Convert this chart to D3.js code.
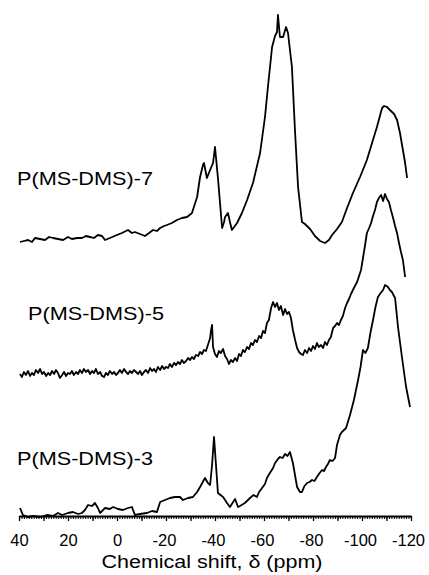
<!DOCTYPE html>
<html>
<head>
<meta charset="utf-8">
<script src="https://cdn.jsdelivr.net/npm/d3@7"></script>
<style>
  body { margin: 0; background: #fff; }
  svg { display: block; }
  text { font-family: "Liberation Sans", Arial, Helvetica, sans-serif; fill: #000; }
</style>
</head>
<body>
<div id="chart"></div>
<script>
// chemical shift axis (ppm), runs high -> low
var tickLabels = [40, 20, 0, -20, -40, -60, -80, -100, -120];

// P(MS-DMS)-7 (top trace)
var ppm7 = [39.6, 38.0, 36.3, 34.7, 33.5, 31.4, 29.4, 27.7, 26.1, 24.1, 22.0, 20.0, 18.4, 16.3, 14.3, 12.7,
  11.0, 9.4, 7.8, 6.1, 4.9, 2.9, 0.0, -2.0, -4.5, -6.1, -7.3, -9.4, -11.4, -13.1, -14.7, -16.3,
  -17.6, -19.2, -20.4, -22.4, -24.5, -26.5, -28.6, -30.6, -32.7, -33.9, -35.1, -35.5, -36.7, -38.0, -39.2,
  -40.0, -41.2, -42.9, -43.7, -44.1, -45.3, -46.1, -46.9, -49.0, -51.0, -53.1, -55.5, -58.4, -60.4, -61.6,
  -63.3, -64.5, -65.3, -65.7, -66.5, -67.8, -69.0, -69.8, -71.4, -72.7, -73.9, -75.5, -76.7, -78.8, -80.8,
  -82.9, -84.9, -86.5, -87.8, -89.8, -91.8, -93.9, -96.3, -99.2, -102.0, -104.1, -106.1, -108.2, -109.0,
  -110.2, -111.4, -113.1, -114.3, -115.5, -116.7, -117.6, -118.4];
var int7 = [2, 3, 4, 2, 6, 5, 4, 7, 6, 5, 4, 7, 5, 6, 6, 8,
  7, 6, 9, 8, 4, 6, 9, 11, 14, 11, 12, 10, 8, 11, 14, 13,
  16, 18, 19, 21, 24, 26, 27, 31, 47, 67, 79, 81, 66, 74, 81,
  97, 66, 16, 22, 27, 31, 22, 14, 21, 31, 44, 61, 91, 127, 157,
  197, 208, 212, 229, 207, 207, 217, 211, 177, 111, 57, 22, 20, 15, 8,
  3, 1, 4, 9, 15, 22, 36, 51, 67, 84, 101, 117, 136, 138,
  137, 134, 130, 124, 111, 94, 81, 66];

// P(MS-DMS)-5 (middle trace)
var ppm5 = [39.6, 38.8, 38.0, 37.2, 36.3, 35.5, 34.7, 33.9, 33.1, 32.2, 31.4, 30.6, 29.8, 28.9, 28.1, 27.3,
  26.5, 25.7, 24.9, 24.1, 23.3, 22.4, 21.6, 20.8, 20.0, 19.2, 18.4, 17.6, 16.7, 15.9, 15.1, 14.3,
  13.5, 12.7, 11.8, 11.0, 10.2, 9.4, 8.6, 7.8, 6.9, 6.1, 5.3, 4.5, 3.7, 2.9, 2.0, 1.2,
  0.4, -0.4, -1.2, -2.0, -2.9, -3.7, -4.5, -5.3, -6.1, -6.9, -7.8, -8.6, -9.4, -10.2, -11.0, -11.8,
  -12.7, -13.5, -14.3, -15.1, -15.9, -16.7, -17.6, -18.4, -19.2, -20.0, -20.8, -21.6, -22.4, -23.3, -24.1,
  -24.9, -25.7, -26.5, -27.3, -28.2, -29.0, -29.8, -30.6, -31.4, -32.2, -33.1, -33.9, -34.7, -35.5, -36.3,
  -37.1, -38.0, -38.4, -38.8, -39.2, -40.0, -40.8, -41.6, -42.4, -43.3, -44.1, -44.9, -45.7, -46.5, -47.3,
  -48.2, -49.0, -49.8, -50.6, -51.4, -52.2, -53.1, -53.9, -54.7, -55.5, -56.3, -57.1, -58.0, -58.8, -59.6,
  -60.4, -61.2, -62.0, -62.9, -63.7, -64.5, -65.3, -66.1, -66.9, -67.8, -68.6, -69.4, -70.2, -71.0, -71.8,
  -72.7, -73.5, -74.3, -75.1, -75.9, -76.7, -77.6, -78.4, -79.2, -80.0, -80.8, -81.6, -82.4, -83.3, -84.1,
  -84.9, -85.7, -86.5, -87.3, -88.2, -89.0, -89.8, -90.6, -91.4, -92.2, -93.1, -93.9, -94.7, -95.5, -96.3,
  -97.1, -98.0, -98.8, -99.6, -100.4, -101.2, -102.0, -102.9, -103.7, -104.5, -105.3, -106.1, -106.9, -107.8,
  -108.6, -109.4, -110.2, -111.0, -111.8, -112.7, -113.5, -114.3, -115.1, -115.9, -116.7, -117.6];
var int5 = [4, 1, 6, 3, 7, 2, 5, 3, 8, 5, 9, 4, 6, 2, 5, 3,
  7, 4, 8, 5, 0, 3, 6, 2, 5, 4, 7, 3, 6, 4, 8, 5,
  9, 6, 8, 4, 7, 5, 9, 4, 6, 2, 1, 5, 3, 7, 4, 6,
  3, 5, 8, 5, 9, 6, 4, 7, 5, 8, 6, 4, 7, 3, 6, 8,
  5, 10, 7, 9, 6, 11, 8, 12, 9, 11, 10, 14, 11, 15, 13,
  16, 14, 18, 15, 17, 20, 18, 21, 19, 23, 22, 26, 24, 28, 27,
  33, 40, 48, 53, 31, 24, 21, 27, 25, 29, 22, 19, 14, 18, 16,
  20, 17, 24, 22, 28, 26, 31, 29, 35, 33, 38, 36, 42, 40, 47,
  45, 55, 58, 70, 76, 71, 75, 68, 72, 63, 69, 64, 66, 60, 48,
  38, 30, 26, 24, 23, 28, 25, 30, 27, 32, 29, 35, 31, 33, 30,
  36, 33, 38, 41, 50, 52, 55, 53, 58, 62, 70, 75, 79, 84, 88,
  92, 96, 102, 108, 120, 132, 145, 150, 155, 162, 168, 176, 180, 183,
  177, 184, 179, 176, 168, 160, 152, 145, 135, 126, 118, 101];

// P(MS-DMS)-3 (bottom trace)
var ppm3 = [39.6, 38.4, 36.3, 34.3, 31.4, 28.6, 26.1, 24.1, 22.4, 20.0, 18.0, 15.9, 14.3, 13.1, 11.8, 10.2,
  9.0, 7.8, 6.9, 4.9, 2.9, 1.6, -0.4, -2.4, -4.5, -6.1, -7.3, -9.4, -12.2, -14.3, -16.3, -17.6, -19.6,
  -21.6, -23.7, -25.7, -26.9, -29.0, -31.0, -32.7, -33.9, -35.9, -37.1, -38.0, -38.8, -39.6, -40.4, -41.2,
  -43.3, -44.9, -46.1, -48.2, -49.4, -50.2, -52.2, -54.3, -55.7, -57.1, -58.0, -59.2, -60.4, -61.2, -62.4,
  -63.7, -64.5, -65.7, -66.5, -67.6, -68.6, -69.6, -70.6, -71.8, -73.5, -74.7, -75.5, -76.5, -77.6, -78.6,
  -79.6, -80.6, -81.6, -82.7, -83.7, -84.5, -85.3, -86.1, -86.9, -88.0, -89.0, -89.8, -91.0, -91.8,
  -93.5, -95.1, -96.7, -98.4, -99.4, -100.4, -101.4, -102.4, -103.5, -104.5, -105.5, -106.5, -107.6, -108.6,
  -109.4, -110.6, -111.4, -112.2, -113.5, -114.7, -116.3, -118.0, -119.6];
var int3 = [9, 2, 0, 1, 0, 2, 1, 4, 2, 4, 5, 3, 4, 7, 12, 11,
  14, 9, 4, 9, 8, 10, 8, 7, 9, 10, 2, 3, 4, 6, 5, 15, 17,
  19, 20, 20, 17, 19, 20, 25, 30, 39, 34, 32, 52, 80, 52, 24,
  20, 14, 10, 18, 10, 11, 14, 19, 22, 20, 25, 29, 33, 39, 44,
  49, 54, 58, 60, 59, 63, 61, 65, 54, 30, 25, 25, 31, 34, 35,
  37, 36, 40, 44, 47, 46, 50, 53, 57, 56, 59, 72, 82, 85,
  89, 102, 117, 137, 150, 167, 164, 169, 185, 197, 210, 220, 224, 227,
  232, 230, 227, 225, 219, 190, 160, 130, 110];

var seriesNames = ["P(MS-DMS)-7", "P(MS-DMS)-5", "P(MS-DMS)-3"];
var seriesOffsets = [273, 139, 0];

var width = 429, height = 575;
var axisY = 516;

var svg = d3.select("#chart")
  .append("svg")
  .attr("width", width)
  .attr("height", height);

svg.append("rect").attr("width", width).attr("height", height).attr("fill", "#fff");

var x = d3.scaleLinear()
  .domain([40, -120])
  .range([19, 411]);

// intensity in arbitrary units, traces stacked with offsets
var y = d3.scaleLinear()
  .domain([0, 520])
  .range([517, -3]);

var series = [
  {name: seriesNames[0], ppm: ppm7, val: int7, off: seriesOffsets[0], lx: 17, ly: 185},
  {name: seriesNames[1], ppm: ppm5, val: int5, off: seriesOffsets[1], lx: 28, ly: 320},
  {name: seriesNames[2], ppm: ppm3, val: int3, off: seriesOffsets[2], lx: 17, ly: 465}
];

var line = d3.line()
  .x(d => x(d[0]))
  .y(d => y(d[1]));

svg.selectAll(".trace")
  .data(series)
  .enter()
  .append("path")
  .attr("class", "trace")
  .attr("d", s => line(s.ppm.map((p, i) => [p, s.val[i] + s.off])))
  .attr("fill", "none")
  .attr("stroke", "#000")
  .attr("stroke-width", 1.8)
  .attr("stroke-linejoin", "round");

// trace labels
svg.selectAll(".lbl")
  .data(series)
  .enter()
  .append("text")
  .attr("class", "lbl")
  .attr("x", s => s.lx)
  .attr("y", s => s.ly)
  .attr("textLength", 136)
  .attr("lengthAdjust", "spacingAndGlyphs")
  .style("font-size", "18px")
  .text(s => s.name);

// minor ticks every 1 ppm
svg.append("g")
  .attr("transform", `translate(0, ${axisY})`)
  .call(d3.axisBottom(x).tickValues(d3.range(-120, 41, 1)).tickSize(3).tickFormat(""))
  .call(g => g.select(".domain").remove())
  .selectAll("line").attr("stroke-width", 1);

// major ticks every 10 ppm
svg.append("g")
  .attr("transform", `translate(0, ${axisY})`)
  .call(d3.axisBottom(x).tickValues(d3.range(-120, 41, 10)).tickSize(5).tickFormat(""))
  .call(g => g.select(".domain").remove())
  .selectAll("line").attr("stroke-width", 1.3);

// labelled axis
var xAxis = svg.append("g")
  .attr("class", "x-axis")
  .attr("transform", `translate(0, ${axisY})`)
  .call(d3.axisBottom(x).tickValues(tickLabels).tickSize(0).tickPadding(18).tickSizeOuter(0)
    .tickFormat(d => String(d)));

xAxis.select(".domain").attr("stroke-width", 2.2);
xAxis.selectAll("text")
  .style("font-family", "\"Liberation Sans\", Arial, sans-serif")
  .style("font-size", "16.5px")
  .attr("fill", "#000")
  .attr("dx", d => d === -120 ? "-3" : (d < 0 ? "-2" : "0"));

// axis title
svg.append("text")
  .attr("x", 212)
  .attr("y", 568)
  .attr("text-anchor", "middle")
  .attr("textLength", 221)
  .attr("lengthAdjust", "spacingAndGlyphs")
  .style("font-size", "17.5px")
  .text("Chemical shift, δ (ppm)");
</script>
</body>
</html>
